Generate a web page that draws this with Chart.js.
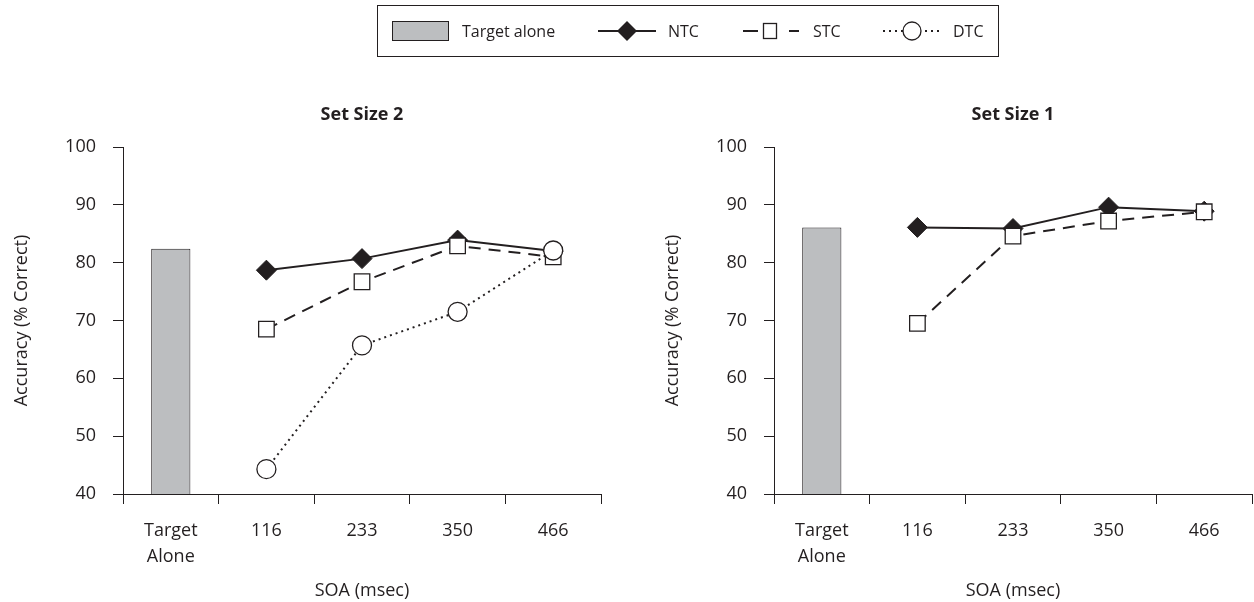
<!DOCTYPE html>
<html>
<head>
<meta charset="utf-8">
<script src="https://cdn.jsdelivr.net/npm/chart.js@4"></script>
<style>
  html, body { margin: 0; padding: 0; background: #fff; }
  body { width: 1254px; height: 602px; position: relative; overflow: hidden; font-family: "Open Sans", sans-serif; color: #231F20; }
  .box { position: absolute; width: 603px; height: 602px; top: 0; }
  #legend { position: absolute; left: 377px; top: 5px; width: 622px; height: 52px; border: 1px solid #231F20; box-sizing: border-box; z-index: 2; }
  #legend .it { position: absolute; top: 0; height: 50px; display: flex; align-items: center; font-size: 16px; }
  #legend svg { display: block; }
</style>
</head>
<body>
<div id="legend">
  <div class="it" style="left:14px">
    <svg width="57" height="20"><rect x="0.5" y="0.5" width="56" height="19" fill="#BCBEC0" stroke="#231F20" stroke-width="1"/></svg>
    <span style="margin-left:13px">Target alone</span>
  </div>
  <div class="it" style="left:220px">
    <svg width="58" height="24"><line x1="0" y1="12" x2="58" y2="12" stroke="#231F20" stroke-width="2"/><polygon points="29,2 39,12 29,22 19,12" fill="#231F20"/></svg>
    <span style="margin-left:12px">NTC</span>
  </div>
  <div class="it" style="left:365px">
    <svg width="58" height="24"><line x1="0" y1="12" x2="15" y2="12" stroke="#231F20" stroke-width="2"/><line x1="46" y1="12" x2="56" y2="12" stroke="#231F20" stroke-width="2"/><rect x="20.5" y="4.5" width="13" height="15" fill="#fff" stroke="#231F20" stroke-width="1.3"/></svg>
    <span style="margin-left:12px">STC</span>
  </div>
  <div class="it" style="left:505px">
    <svg width="58" height="24"><line x1="0" y1="12" x2="58" y2="12" stroke="#231F20" stroke-width="2" stroke-dasharray="2,4"/><circle cx="29" cy="12" r="9" fill="#fff" stroke="#231F20" stroke-width="1.3"/></svg>
    <span style="margin-left:12px">DTC</span>
  </div>
</div>
<div class="box" style="left:0px"><canvas id="c2"></canvas></div>
<div class="box" style="left:651px"><canvas id="c1"></canvas></div>
<script>
const categories = [['Target', 'Alone'], '116', '233', '350', '466'];
const yTicks = [40, 50, 60, 70, 80, 90, 100];

// Set Size 2
const ss2TargetAlone = 82.4;
const ss2NTC = [78.7, 80.7, 83.9, 82.0];
const ss2STC = [68.5, 76.7, 82.9, 81.0];
const ss2DTC = [44.3, 65.7, 71.5, 82.1];

// Set Size 1
const ss1TargetAlone = 86.1;
const ss1NTC = [86.1, 85.9, 89.6, 88.9];
const ss1STC = [69.5, 84.6, 87.2, 88.8];

const ink = '#231F20';
const font = 'Open Sans';

function makeChart(id, title, alone, ntc, stc, dtc) {
  const datasets = [{
    type: 'bar',
    data: [alone, null, null, null, null],
    backgroundColor: '#BCBEC0',
    borderColor: ink,
    borderWidth: 1,
    barPercentage: 0.41,
    categoryPercentage: 1,
    order: 4
  }, {
    type: 'line',
    data: [null].concat(ntc),
    borderColor: ink,
    borderWidth: 2,
    pointStyle: 'rectRot',
    pointRadius: 10,
    pointBackgroundColor: ink,
    pointBorderColor: ink,
    pointBorderWidth: 1,
    order: 3
  }, {
    type: 'line',
    data: [null].concat(stc),
    borderColor: ink,
    borderWidth: 2,
    borderDash: [12, 8],
    pointStyle: 'rect',
    pointRadius: 11,
    pointBackgroundColor: '#fff',
    pointBorderColor: ink,
    pointBorderWidth: 1.3,
    order: 2
  }];
  if (dtc) {
    datasets.push({
      type: 'line',
      data: [null].concat(dtc),
      borderColor: ink,
      borderWidth: 2,
      borderDash: [2, 4],
      pointStyle: 'circle',
      pointRadius: 9.5,
      pointBackgroundColor: '#fff',
      pointBorderColor: ink,
      pointBorderWidth: 1.3,
      order: 1
    });
  }
  new Chart(document.getElementById(id), {
    type: 'bar',
    data: { labels: categories, datasets: datasets },
    options: {
      responsive: true,
      maintainAspectRatio: false,
      animation: false,
      layout: { autoPadding: false, padding: { left: 0, right: 2, top: 0, bottom: 0 } },
      plugins: {
        legend: { display: false },
        tooltip: { enabled: false }
      },
      scales: {
        // top axis only carries the panel title, centred over the plot
        top: {
          type: 'category',
          position: 'top',
          grid: { display: false },
          border: { display: false },
          ticks: { display: false },
          title: { display: true, text: title, color: ink, font: { family: font, size: 18, weight: 'bold' }, padding: { top: 104, bottom: 0 } },
          afterFit: s => { s.height = 147; s.paddingLeft = 0; s.paddingRight = 0; }
        },
        x: {
          offset: true,
          grid: { offset: true, drawOnChartArea: false, drawTicks: true, tickLength: 10, color: ink },
          border: { color: ink, width: 1 },
          ticks: { color: ink, font: { family: font, size: 18, lineHeight: 1.44 }, padding: 14, maxRotation: 0 },
          title: { display: true, text: 'SOA (msec)', color: ink, font: { family: font, size: 18 }, padding: { top: 0, bottom: 0 } },
          afterFit: s => { s.height = 108; s.paddingLeft = 0; s.paddingRight = 0; }
        },
        y: {
          min: 40,
          max: 100,
          afterBuildTicks: s => { s.ticks = yTicks.map(v => ({ value: v })); },
          grid: { drawOnChartArea: false, drawTicks: true, tickLength: 10, color: ink },
          border: { color: ink, width: 1 },
          ticks: { color: ink, font: { family: font, size: 18 }, padding: 17 },
          title: { display: true, text: 'Accuracy (% Correct)', color: ink, font: { family: font, size: 18 }, padding: { top: 11, bottom: 0 } },
          afterFit: s => { s.width = 123; }
        }
      }
    }
  });
}

makeChart('c2', 'Set Size 2', ss2TargetAlone, ss2NTC, ss2STC, ss2DTC);
makeChart('c1', 'Set Size 1', ss1TargetAlone, ss1NTC, ss1STC, null);
</script>
</body>
</html>
